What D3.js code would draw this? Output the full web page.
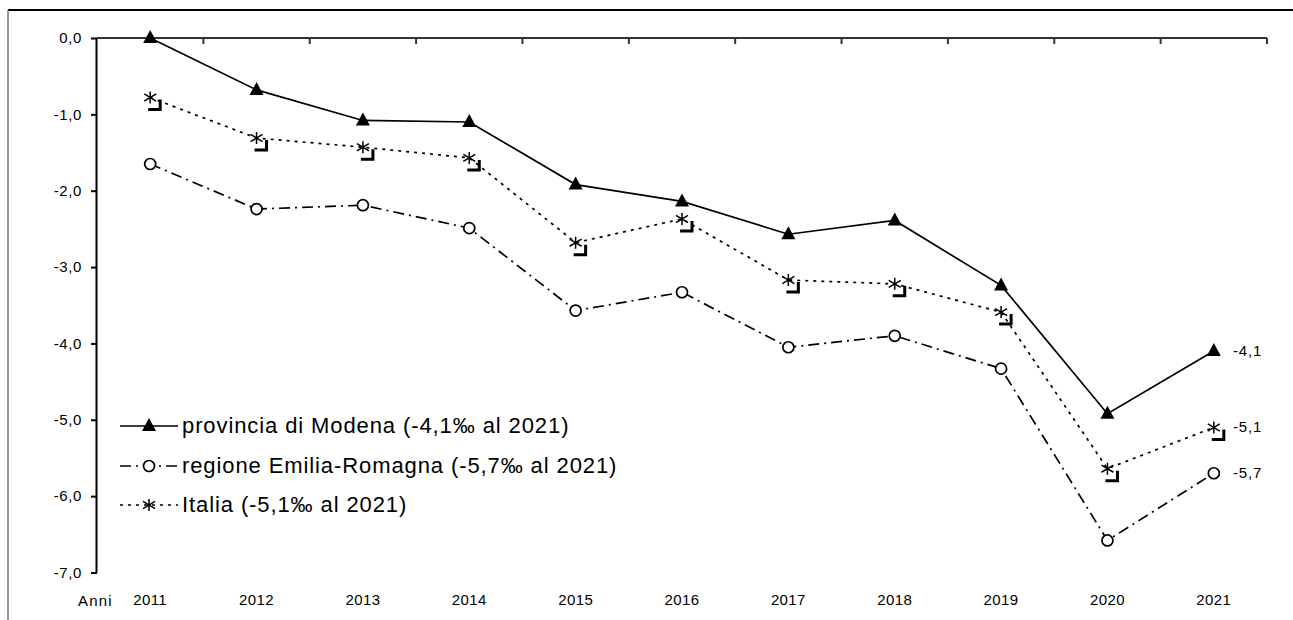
<!DOCTYPE html>
<html>
<head>
<meta charset="utf-8">
<script src="https://cdn.jsdelivr.net/npm/d3@7"></script>
<style>
  body { margin: 0; background: #fff; }
  svg { display: block; font-family: "Liberation Sans", Arial, sans-serif; }
</style>
</head>
<body>
<svg id="chart" width="1293" height="620"></svg>
<script>
const years = ['2011', '2012', '2013', '2014', '2015', '2016', '2017', '2018', '2019', '2020', '2021']
const modena = [0.0, -0.68, -1.08, -1.10, -1.92, -2.14, -2.57, -2.39, -3.24, -4.92, -4.1]
const emilia = [-1.65, -2.24, -2.19, -2.49, -3.57, -3.33, -4.05, -3.90, -4.33, -6.58, -5.7]
const italia = [-0.78, -1.31, -1.43, -1.57, -2.68, -2.37, -3.17, -3.22, -3.59, -5.64, -5.1]
const yTicks = [0, -1, -2, -3, -4, -5, -6, -7]
const seriesNames = ['provincia di Modena (-4,1‰ al 2021)', 'regione Emilia-Romagna (-5,7‰ al 2021)', 'Italia (-5,1‰ al 2021)']

const series = [
  {name: seriesNames[0], values: modena, marker: 'triangle', dash: null},
  {name: seriesNames[1], values: emilia, marker: 'circle', dash: '11,5,2,5'},
  {name: seriesNames[2], values: italia, marker: 'star', dash: '3,5'}
]

const svg = d3.select('#chart')
const plotL = 97, plotR = 1267, plotT = 38, plotB = 572.5

const x = d3.scaleBand().domain(years).range([plotL, plotR])
const xc = d => x(d) + x.bandwidth() / 2
const y = d3.scaleLinear().domain([-7, 0]).range([plotB, plotT])
const fmt = v => v.toFixed(1).replace('.', ',')

// frame
svg.append('line').attr('x1', 8).attr('x2', 1293).attr('y1', 10).attr('y2', 10)
  .attr('stroke', '#000').attr('stroke-width', 2)
svg.append('line').attr('x1', 8).attr('x2', 8).attr('y1', 10).attr('y2', 620)
  .attr('stroke', '#777').attr('stroke-width', 1.5)

// y axis
const yAxis = svg.append('g').attr('transform', `translate(${plotL},0)`)
  .call(d3.axisLeft(y).tickValues(yTicks).tickSize(6).tickPadding(9).tickFormat(fmt))
yAxis.select('.domain').attr('stroke-width', 2).attr('d', `M-0.5,${plotT}V${plotB}`)
yAxis.selectAll('.tick line').attr('stroke-width', 2)
yAxis.selectAll('text').attr('font-size', 15).attr('letter-spacing', 0.6).attr('fill', '#000')

// x axis at value 0 (top), ticks on category boundaries
const xg = svg.append('g')
xg.append('line').attr('x1', plotL).attr('x2', plotR).attr('y1', y(0)).attr('y2', y(0))
  .attr('stroke', '#333').attr('stroke-width', 2)
xg.selectAll('.bnd').data(years).enter().append('line')
  .attr('x1', d => x(d) + x.bandwidth()).attr('x2', d => x(d) + x.bandwidth())
  .attr('y1', y(0)).attr('y2', y(0) + 6)
  .attr('stroke', '#333').attr('stroke-width', 2)

// category labels at bottom
const xl = svg.append('g').attr('transform', 'translate(0,589)')
  .call(d3.axisBottom(x).tickSize(0).tickPadding(5))
xl.select('.domain').remove()
xl.selectAll('text').attr('font-size', 15).attr('letter-spacing', 0.4).attr('fill', '#000')
svg.append('text').attr('x', 78).attr('y', 606).attr('font-size', 15).attr('letter-spacing', 1.2).text('Anni')

// lines
const line = d3.line().x((v, i) => xc(years[i])).y(v => y(v))
series.forEach(s => {
  svg.append('path').attr('d', line(s.values)).attr('fill', 'none')
    .attr('stroke', '#000').attr('stroke-width', 1.7)
    .attr('stroke-dasharray', s.dash)
})

function drawStar(g, cx, cy) {
  const r = 6
  g.append('path')
    .attr('d', `M${cx},${cy - r}V${cy + r}M${cx - r},${cy - r * 0.6}L${cx + r},${cy + r * 0.6}M${cx - r},${cy + r * 0.6}L${cx + r},${cy - r * 0.6}`)
    .attr('stroke', '#000').attr('stroke-width', 1.5).attr('fill', 'none')
}

function drawMarker(g, type, cx, cy) {
  if (type === 'triangle') {
    g.append('path').attr('d', `M${cx},${cy - 8}L${cx + 7},${cy + 5}L${cx - 7},${cy + 5}Z`).attr('fill', '#000')
  } else if (type === 'circle') {
    g.append('circle').attr('cx', cx).attr('cy', cy).attr('r', 5.5)
      .attr('fill', '#fff').attr('stroke', '#000').attr('stroke-width', 1.7)
  } else {
    drawStar(g, cx, cy)
    g.append('path')
      .attr('d', `M${cx + 10},${cy + 2}V${cy + 12}H${cx - 2}`)
      .attr('stroke', '#000').attr('stroke-width', 3).attr('fill', 'none')
  }
}

series.forEach(s => {
  const g = svg.append('g')
  s.values.forEach((v, i) => drawMarker(g, s.marker, xc(years[i]), y(v)))
  const last = s.values[s.values.length - 1]
  svg.append('text').attr('x', 1233).attr('y', y(last) + 5).attr('font-size', 15)
    .attr('letter-spacing', 0.8).text(fmt(last))
})

// legend
const legendY = [426, 466, 505]
series.forEach((s, i) => {
  const ly = legendY[i]
  svg.append('line').attr('x1', 120).attr('x2', 178).attr('y1', ly).attr('y2', ly)
    .attr('stroke', '#000').attr('stroke-width', 1.7).attr('stroke-dasharray', s.dash)
  const g = svg.append('g')
  if (s.marker === 'star') drawStar(g, 149, ly)
  else drawMarker(g, s.marker, 149, ly)
  svg.append('text').attr('x', 182).attr('y', ly + 7).attr('font-size', 22)
    .attr('letter-spacing', 0.9).text(s.name)
})
</script>
</body>
</html>
